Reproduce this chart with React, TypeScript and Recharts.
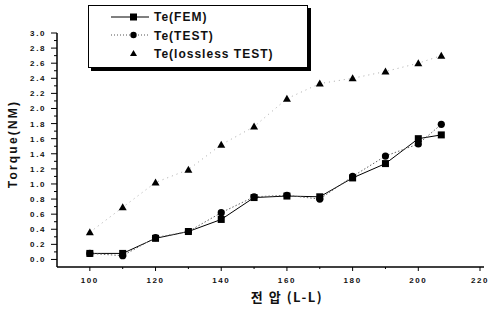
import { Label, Line, LineChart, XAxis, YAxis } from 'recharts';

const voltage = [100, 110, 120, 130, 140, 150, 160, 170, 180, 190, 200, 207];
const teFem = [0.08, 0.08, 0.28, 0.37, 0.53, 0.82, 0.84, 0.83, 1.08, 1.27, 1.6, 1.65];
const teTest = [0.08, 0.05, 0.29, 0.37, 0.62, 0.83, 0.85, 0.8, 1.1, 1.37, 1.53, 1.79];
const teLossless = [0.36, 0.69, 1.02, 1.19, 1.52, 1.76, 2.13, 2.33, 2.4, 2.49, 2.6, 2.7];

const xTicks = [100, 110, 120, 130, 140, 150, 160, 170, 180, 190, 200, 210, 220];
const yTicks = Array.from({ length: 31 }, (_, i) => i / 10);
const legendNames = ['Te(FEM)', 'Te(TEST)', 'Te(lossless TEST)'];

const data = voltage.map((v, i) => ({
  v,
  fem: teFem[i],
  test: teTest[i],
  lossless: teLossless[i],
}));

const AXIS_X = 57;
const AXIS_Y = 267;
const tickFont = { fontFamily: 'Liberation Sans, Arial, sans-serif', fontWeight: 700, fontSize: 8, letterSpacing: 1.6 };

const YTick = (props: any) => {
  const { y, payload } = props;
  const val = payload.value as number;
  const major = Math.round(val * 10) % 2 === 0;
  return (
    <g>
      <line x1={AXIS_X - (major ? 6 : 3)} x2={AXIS_X} y1={y} y2={y} stroke="#000" />
      {major && (
        <text x={AXIS_X - 11} y={y + 3} textAnchor="end" fill="#111" style={tickFont}>
          {val.toFixed(1)}
        </text>
      )}
    </g>
  );
};

const XTick = (props: any) => {
  const { x, payload } = props;
  const val = payload.value as number;
  const major = val % 20 === 0;
  return (
    <g>
      <line x1={x} x2={x} y1={AXIS_Y} y2={AXIS_Y + (major ? 4 : 2)} stroke="#000" />
      {major && (
        <text x={x} y={AXIS_Y + 16} textAnchor="middle" fill="#111" style={tickFont}>
          {val}
        </text>
      )}
    </g>
  );
};

const Square = (p: any) => (
  <rect key={`s${p.index}`} x={p.cx - 3.5} y={p.cy - 3.5} width={7} height={7} fill="#000" />
);
const Circle = (p: any) => <circle key={`c${p.index}`} cx={p.cx} cy={p.cy} r={3.6} fill="#000" />;
const Triangle = (p: any) => (
  <path
    key={`t${p.index}`}
    d={`M${p.cx},${p.cy - 4} L${p.cx + 4},${p.cy + 3} L${p.cx - 4},${p.cy + 3} Z`}
    fill="#000"
  />
);

const legendText = { fontFamily: 'Liberation Sans, Arial, sans-serif', fontWeight: 700, fontSize: 12, letterSpacing: 1, color: '#111' };

const LegendBox = () => (
  <div
    style={{
      position: 'absolute',
      left: 88,
      top: 5,
      width: 218,
      height: 61,
      border: '1px solid #000',
      boxShadow: '3px 3px 0 #000',
      background: '#fff',
    }}
  >
    <svg width={60} height={61} style={{ position: 'absolute', left: 0, top: 0 }}>
      <line x1={22} x2={60} y1={11} y2={11} stroke="#000" />
      <rect x={41} y={7.5} width={7} height={7} fill="#000" />
      <line x1={22} x2={60} y1={29} y2={29} stroke="#555" strokeDasharray="1 2" />
      <circle cx={44.5} cy={29} r={3.2} fill="#000" />
      <path d="M44.5,44 L48,50 L41,50 Z" fill="#000" />
    </svg>
    {legendNames.map((t, i) => (
      <div key={t} style={{ ...legendText, position: 'absolute', left: 65, top: 4 + i * 18.5, lineHeight: '14px' }}>
        {t}
      </div>
    ))}
  </div>
);

export default function App() {
  return (
    <div style={{ position: 'absolute', left: 0, top: 0, width: 492, height: 310, background: '#fff' }}>
      <LineChart width={492} height={310} data={data} margin={{ top: 33, right: 8, bottom: 0, left: 0 }}>
        <XAxis
          dataKey="v"
          type="number"
          domain={[90, 220]}
          ticks={xTicks}
          tick={<XTick />}
          tickLine={false}
          axisLine={{ stroke: '#000', strokeWidth: 1.5 }}
          height={43}
        >
          <Label
            value="전 압  (L-L)"
            content={() => (
              <text
                x={287}
                y={302}
                textAnchor="middle"
                fill="#111"
                style={{ fontFamily: 'Noto Sans CJK KR, sans-serif', fontWeight: 700, fontSize: 13, letterSpacing: 1.5 }}
              >
                전 압  (L-L)
              </text>
            )}
          />
        </XAxis>
        <YAxis
          type="number"
          domain={[-0.1, 3.0]}
          ticks={yTicks}
          interval={0}
          tick={<YTick />}
          tickLine={false}
          axisLine={{ stroke: '#000', strokeWidth: 1.5 }}
          width={57}
        >
          <Label
            value="Torque(NM)"
            content={() => (
              <text
                x={17}
                y={144}
                transform="rotate(-90 17 144)"
                textAnchor="middle"
                fill="#111"
                style={{ fontFamily: 'Liberation Sans, Arial, sans-serif', fontWeight: 700, fontSize: 12, letterSpacing: 2.2 }}
              >
                Torque(NM)
              </text>
            )}
          />
        </YAxis>
        <Line dataKey="fem" stroke="#000" strokeWidth={1} dot={Square} isAnimationActive={false} />
        <Line dataKey="test" stroke="#666" strokeWidth={1} strokeDasharray="1.5 2" dot={Circle} isAnimationActive={false} />
        <Line dataKey="lossless" stroke="#aaa" strokeWidth={1} strokeDasharray="1 4" dot={Triangle} isAnimationActive={false} />
      </LineChart>
      <LegendBox />
    </div>
  );
}
